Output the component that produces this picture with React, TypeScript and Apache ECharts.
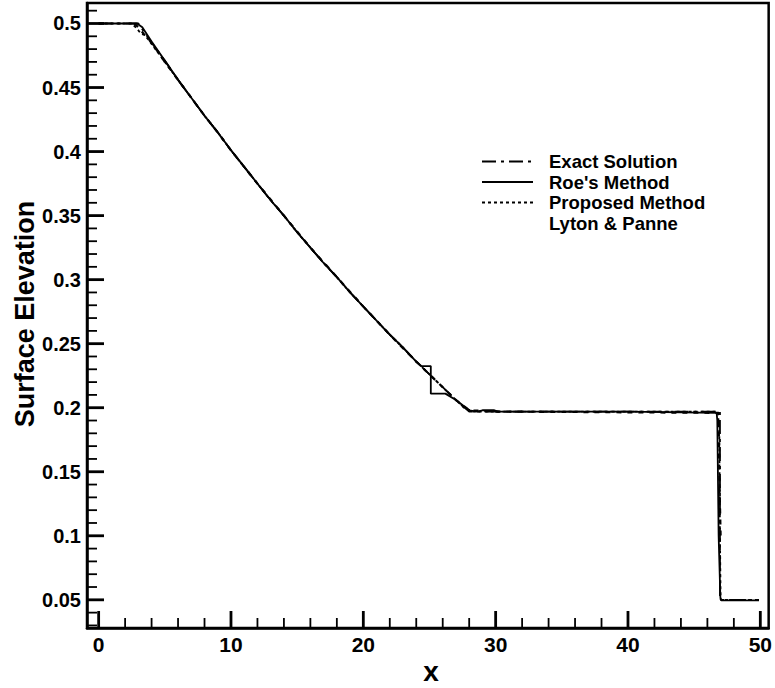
import React, { useEffect, useRef } from "react";
import * as echarts from "echarts";

// ---- data ----
const exactX = [0, 3, 4, 5, 6, 7, 8, 9, 10, 11, 12, 13, 14, 15, 16, 17, 18, 19, 20, 21, 22, 23, 24, 25, 26, 27, 28, 35, 46.95, 46.95, 49.9];
const exactY = [0.5, 0.5, 0.485, 0.471, 0.456, 0.442, 0.428, 0.415, 0.401, 0.388, 0.375, 0.362, 0.35, 0.337, 0.325, 0.313, 0.302, 0.29, 0.279, 0.268, 0.257, 0.247, 0.236, 0.226, 0.216, 0.206, 0.197, 0.197, 0.197, 0.05, 0.05];

const roeX = [0, 2.9, 3.3, 4, 5, 6, 7, 8, 9, 10, 11, 12, 13, 14, 15, 16, 17, 18, 19, 20, 21, 22, 23, 24, 24.4, 25.1, 25.1, 26.2, 27, 28, 28.6, 29, 29.9, 30.2, 40, 46.7, 46.75, 46.85, 46.98, 47.05, 49.9];
const roeY = [0.5, 0.5, 0.497, 0.486, 0.471, 0.456, 0.442, 0.428, 0.415, 0.401, 0.388, 0.375, 0.362, 0.35, 0.337, 0.325, 0.313, 0.302, 0.29, 0.279, 0.268, 0.257, 0.247, 0.236, 0.2325, 0.2325, 0.211, 0.211, 0.206, 0.198, 0.197, 0.198, 0.198, 0.197, 0.197, 0.196, 0.19, 0.1, 0.052, 0.0495, 0.0495];

const propX = [0, 2.5, 2.9, 3.2, 3.5, 4, 5, 6, 7, 8, 9, 10, 11, 12, 13, 14, 15, 16, 17, 18, 19, 20, 21, 22, 23, 24, 25, 26, 27, 27.6, 28.3, 35, 46.8, 46.9, 46.95, 47.0, 49.9];
const propY = [0.5, 0.5, 0.496, 0.492, 0.491, 0.484, 0.47, 0.456, 0.442, 0.428, 0.415, 0.401, 0.388, 0.375, 0.362, 0.35, 0.337, 0.325, 0.313, 0.302, 0.29, 0.279, 0.268, 0.257, 0.247, 0.236, 0.226, 0.216, 0.206, 0.2, 0.197, 0.197, 0.197, 0.18, 0.1, 0.05, 0.05];

const lytonX = [2.7, 3.0, 3.4, 4, 5, 6, 7, 8, 9, 10, 12, 14, 16, 18, 20, 22, 24, 25, 26, 27, 28, 30, 46.85, 46.9, 47.0];
const lytonY = [0.5, 0.497, 0.492, 0.485, 0.47, 0.456, 0.442, 0.428, 0.415, 0.401, 0.375, 0.35, 0.325, 0.302, 0.279, 0.257, 0.236, 0.226, 0.216, 0.206, 0.198, 0.197, 0.196, 0.15, 0.1];

// axis ranges and tick positions
const xRange = [-0.88, 50.63];
const yRange = [0.028, 0.516];
const xMajorTicks = [0, 10, 20, 30, 40, 50];
const xMinorTicks = [2, 4, 6, 8, 12, 14, 16, 18, 22, 24, 26, 28, 32, 34, 36, 38, 42, 44, 46, 48];
const yMajorTicks = [0.05, 0.1, 0.15, 0.2, 0.25, 0.3, 0.35, 0.4, 0.45, 0.5];
const yMinorTicks = [
  0.03, 0.04, 0.06, 0.07, 0.08, 0.09, 0.11, 0.12, 0.13, 0.14, 0.16, 0.17, 0.18, 0.19,
  0.21, 0.22, 0.23, 0.24, 0.26, 0.27, 0.28, 0.29, 0.31, 0.32, 0.33, 0.34, 0.36, 0.37,
  0.38, 0.39, 0.41, 0.42, 0.43, 0.44, 0.46, 0.47, 0.48, 0.49, 0.51,
];

const seriesNames = ["Exact Solution", "Roe's Method", "Proposed Method", "Lyton & Panne"];
const xAxisTitle = "x";
const yAxisTitle = "Surface Elevation";

const FONT = '"Liberation Sans", Arial, Helvetica, sans-serif';
const MAJOR_LEN = 17;
const MINOR_LEN = 10;

function pairs(xs: number[], ys: number[]) {
  return xs.map((x, i) => [x, ys[i]]);
}

export default function App() {
  const ref = useRef<HTMLDivElement>(null);
  useEffect(() => {
    const chart = echarts.init(ref.current!, null, { renderer: "svg" });

    // [x, y, major(1)/minor(0), orientation: 0 = x-axis tick, 1 = y-axis tick]
    const tickData = [
      ...xMajorTicks.map((v) => [v, yRange[0], 1, 0]),
      ...xMinorTicks.map((v) => [v, yRange[0], 0, 0]),
      ...yMajorTicks.map((v) => [xRange[0], v, 1, 1]),
      ...yMinorTicks.map((v) => [xRange[0], v, 0, 1]),
    ];

    chart.setOption({
      animation: false,
      backgroundColor: "#fff",
      grid: {
        left: 87,
        right: 5,
        top: 3,
        bottom: 60,
        show: true,
        borderColor: "#000",
        borderWidth: 2.5,
      },
      xAxis: {
        type: "value",
        min: xRange[0],
        max: xRange[1],
        splitNumber: 5,
        axisLine: { onZero: false, lineStyle: { color: "#000", width: 2.5 } },
        axisTick: { show: false },
        splitLine: { show: false },
        axisLabel: {
          showMinLabel: false,
          showMaxLabel: false,
          margin: 6,
          color: "#000",
          fontFamily: FONT,
          fontWeight: "bold",
          fontSize: 21,
        },
      },
      yAxis: {
        type: "value",
        min: yRange[0],
        max: yRange[1],
        splitNumber: 10,
        axisLine: { show: true, onZero: false, lineStyle: { color: "#000", width: 2.5 } },
        axisTick: { show: false },
        splitLine: { show: false },
        axisLabel: {
          showMinLabel: false,
          showMaxLabel: false,
          margin: 6,
          color: "#000",
          fontFamily: FONT,
          fontWeight: "bold",
          fontSize: 20,
        },
      },
      graphic: [
        {
          type: "text",
          x: 431,
          y: 671,
          silent: true,
          style: {
            text: xAxisTitle,
            fill: "#000",
            font: `bold 28px ${FONT}`,
            textAlign: "center",
            textVerticalAlign: "middle",
          },
        },
        {
          type: "text",
          x: 25,
          y: 314,
          rotation: Math.PI / 2,
          silent: true,
          style: {
            text: yAxisTitle,
            fill: "#000",
            font: `bold 27px ${FONT}`,
            textAlign: "center",
            textVerticalAlign: "middle",
          },
        },
      ],
      legend: {
        orient: "vertical",
        left: 481,
        top: 152,
        itemWidth: 51,
        itemHeight: 12,
        itemGap: 1.5,
        selectedMode: false,
        padding: 0,
        itemStyle: { opacity: 0 },
        textStyle: {
          color: "#000",
          fontFamily: FONT,
          fontWeight: "bold",
          fontSize: 18.5,
          lineHeight: 18,
          padding: [0, 0, 0, 11],
        },
        data: [
          { name: seriesNames[0] },
          { name: seriesNames[1] },
          { name: seriesNames[2] },
          { name: seriesNames[3], icon: "none" },
        ],
      },
      series: [
        {
          name: "axisTicks",
          type: "custom",
          silent: true,
          clip: false,
          z: 10,
          data: tickData,
          renderItem: (params: any, api: any) => {
            const xv = api.value(0);
            const yv = api.value(1);
            const major = api.value(2) > 0.5;
            const isY = api.value(3) > 0.5;
            const cs = params.coordSys;
            const len = major ? MAJOR_LEN : MINOR_LEN;
            const lw = major ? 2.8 : 1.8;
            if (isY) {
              const py = api.coord([xv, yv])[1];
              return {
                type: "line",
                shape: { x1: cs.x, y1: py, x2: cs.x + len, y2: py },
                style: { stroke: "#000", lineWidth: lw },
              };
            }
            const px = api.coord([xv, yv])[0];
            const bottom = cs.y + cs.height;
            return {
              type: "line",
              shape: { x1: px, y1: bottom, x2: px, y2: bottom - len },
              style: { stroke: "#000", lineWidth: lw },
            };
          },
        },
        {
          name: seriesNames[0],
          type: "line",
          data: pairs(exactX, exactY),
          symbol: "none",
          lineStyle: { color: "#000", width: 1.8, type: [14, 5, 3, 5] },
          itemStyle: { color: "#000" },
        },
        {
          name: seriesNames[1],
          type: "line",
          data: pairs(roeX, roeY),
          symbol: "none",
          lineStyle: { color: "#000", width: 1.8, type: "solid" },
          itemStyle: { color: "#000" },
        },
        {
          name: seriesNames[2],
          type: "line",
          data: pairs(propX, propY),
          symbol: "none",
          lineStyle: { color: "#000", width: 1.8, type: [3, 3] },
          itemStyle: { color: "#000" },
        },
        {
          name: seriesNames[3],
          type: "line",
          data: pairs(lytonX, lytonY),
          symbol: "none",
          lineStyle: { color: "#000", width: 2.2, type: [5, 6] },
          itemStyle: { color: "#000" },
        },
      ],
    });
    return () => chart.dispose();
  }, []);
  return (
    <div
      ref={ref}
      style={{ position: "fixed", left: 0, top: 0, width: 775, height: 688, background: "#fff" }}
    />
  );
}
